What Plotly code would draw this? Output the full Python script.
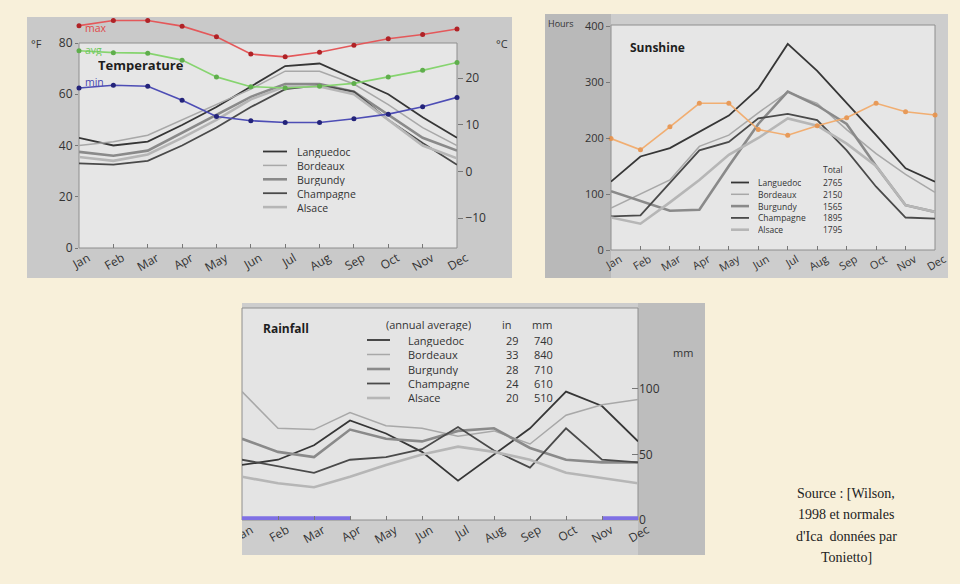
import plotly.graph_objects as go

W, H = 960, 584
BG = "#f8f0da"
FONT = "Open Sans"

months = ["Jan", "Feb", "Mar", "Apr", "May", "Jun", "Jul", "Aug", "Sep", "Oct", "Nov", "Dec"]
regions = ["Languedoc", "Bordeaux", "Burgundy", "Champagne", "Alsace"]
region_colors = ["#363636", "#a8a8a8", "#8a8a8a", "#4a4a4a", "#b6b6b6"]
region_widths = [1.8, 1.5, 2.6, 1.8, 2.6]

# Temperature (°F) of the wine regions
temp_languedoc = [43, 40, 41.5, 48, 55, 63, 71, 72, 66, 60, 51, 43]
temp_bordeaux = [40, 41.5, 44, 50, 56, 62, 69, 69, 64, 56, 47, 40]
temp_burgundy = [37.5, 36, 38, 45, 52, 59, 64, 64, 61, 52, 43, 38]
temp_champagne = [33, 32.5, 34, 40, 47, 55, 62, 63.5, 61, 50, 41, 32.5]
temp_alsace = [35.5, 34, 36.5, 43, 50, 58, 63, 63, 60, 50, 40, 35]
# Ica temperature (°C)
ica_max = [31.3, 32.4, 32.4, 31.2, 28.9, 25.2, 24.6, 25.6, 27.1, 28.5, 29.4, 30.6]
ica_avg = [25.9, 25.5, 25.4, 23.9, 20.3, 18.2, 17.9, 18.3, 18.9, 20.3, 21.7, 23.4]
ica_min = [17.9, 18.5, 18.3, 15.3, 11.8, 10.9, 10.5, 10.5, 11.3, 12.3, 13.9, 15.9]
ica_temp_labels = ["max", "avg", "min"]

# Sunshine (hours)
sun_languedoc = [122, 167, 182, 211, 240, 288, 368, 320, 263, 205, 146, 122]
sun_bordeaux = [75, 100, 125, 185, 205, 245, 282, 262, 215, 172, 135, 103]
sun_burgundy = [105, 88, 70, 72, 150, 225, 283, 258, 225, 150, 80, 68]
sun_champagne = [60, 62, 120, 178, 193, 235, 243, 232, 178, 113, 58, 56]
sun_alsace = [58, 47, 85, 125, 170, 200, 235, 222, 190, 150, 80, 68]
sun_ica = [199, 179, 220, 262, 262, 215, 205, 222, 236, 262, 247, 241]
sun_totals = [2765, 2150, 1565, 1895, 1795]

# Rainfall (mm)
rain_languedoc = [42, 46, 57, 76, 66, 52, 30, 50, 70, 98, 87, 60]
rain_bordeaux = [98, 70, 69, 82, 72, 70, 64, 68, 58, 80, 88, 92]
rain_burgundy = [62, 52, 48, 69, 62, 60, 68, 70, 55, 46, 44, 44]
rain_champagne = [46, 41, 36, 46, 48, 54, 71, 53, 40, 70, 46, 44]
rain_alsace = [33, 28, 25, 33, 42, 50, 56, 52, 46, 36, 32, 28]
rain_ica = [1, 1, 1, 1, None, None, None, None, None, None, 1, 1]
rain_in = [29, 33, 28, 24, 20]
rain_mm = [740, 840, 710, 610, 510]

source_lines = ["Source : [Wilson,", "1998 et normales", "d'Ica  données par", "Tonietto]"]

xs = list(range(len(months)))


def X(px):
    return px / W


def Y(py):
    return 1 - py / H


shapes = []
ann = []


def rect(x0, y0, x1, y1, fill, line=None, layer="below"):
    shapes.append(dict(type="rect", xref="paper", yref="paper",
                       x0=X(x0), x1=X(x1), y0=Y(y1), y1=Y(y0),
                       fillcolor=fill, layer=layer,
                       line=dict(width=1 if line else 0, color=line or fill)))


def seg(x0, y0, x1, y1, color, width):
    shapes.append(dict(type="line", xref="paper", yref="paper",
                       x0=X(x0), x1=X(x1), y0=Y(y0), y1=Y(y1),
                       line=dict(color=color, width=width), layer="above"))


def text(px, py, s, size=12, color="#333", anchor="left", bold=False, family=FONT, h=None):
    a = dict(xref="paper", yref="paper", x=X(px), y=Y(py),
             text=f"<b>{s}</b>" if bold else s, showarrow=False,
             xanchor=anchor, yanchor="middle", borderpad=0,
             font=dict(size=size, color=color, family=family))
    if h:
        a["height"] = h
    ann.append(a)


# ---- panel backgrounds ----
rect(27, 17, 512, 278, "#c9c9c9")
rect(79, 43, 457, 248, "#e6e6e6", line="#8e8e8e")
rect(545, 14, 948, 278, "#cdcdcd")
rect(545, 14, 611, 278, "#b9b9b9")
rect(611, 25, 935, 250, "#e6e6e6", line="#8e8e8e")
rect(242, 303, 705, 555, "#cdcdcd")
rect(638, 303, 705, 555, "#bdbdbd")
rect(242, 308, 638, 520, "#e4e4e4", line="#8e8e8e")
# clip of the rainfall "Jan" label
rect(220, 520, 242, 565, BG, layer="above")

fig = go.Figure()

# ---- Temperature ----
for vals, c, w in zip([temp_languedoc, temp_bordeaux, temp_burgundy, temp_champagne, temp_alsace],
                      region_colors, region_widths):
    fig.add_trace(go.Scatter(x=xs, y=vals, xaxis="x", yaxis="y", mode="lines",
                             line=dict(color=c, width=w), showlegend=False))
for vals, c, mc in zip([ica_max, ica_avg, ica_min],
                       ["#e4585a", "#86d46f", "#4d4db5"],
                       ["#b02226", "#5fae4c", "#23237a"]):
    fig.add_trace(go.Scatter(x=xs, y=vals, xaxis="x", yaxis="y4", mode="lines+markers",
                             line=dict(color=c, width=1.6), marker=dict(size=5, color=mc),
                             cliponaxis=False, showlegend=False))

# ---- Sunshine ----
for vals, c, w in zip([sun_languedoc, sun_bordeaux, sun_burgundy, sun_champagne, sun_alsace],
                      region_colors, region_widths):
    fig.add_trace(go.Scatter(x=xs, y=vals, xaxis="x2", yaxis="y2", mode="lines",
                             line=dict(color=c, width=w), showlegend=False))
fig.add_trace(go.Scatter(x=xs, y=sun_ica, xaxis="x2", yaxis="y2", mode="lines+markers",
                         line=dict(color="#f3a865", width=1.6), marker=dict(size=5, color="#e8924a"),
                         opacity=0.9, cliponaxis=False, showlegend=False))

# ---- Rainfall ----
for vals, c, w in zip([rain_languedoc, rain_bordeaux, rain_burgundy, rain_champagne, rain_alsace],
                      region_colors, region_widths):
    fig.add_trace(go.Scatter(x=xs, y=vals, xaxis="x3", yaxis="y3", mode="lines",
                             line=dict(color=c, width=w), showlegend=False))
fig.add_trace(go.Scatter(x=xs, y=rain_ica, xaxis="x3", yaxis="y3", mode="lines",
                         line=dict(color="#7f70e4", width=5), showlegend=False))

# ---- texts ----
text(97, 65, "Temperature", size=13, color="#1e1e1e", bold=True, h=14)
for lab, py, col in zip(ica_temp_labels, [28, 50, 82], ["#e04848", "#6cc85a", "#4646b0"]):
    text(84, py, lab, size=10.5, color=col, h=12)
text(30, 43, "°F", size=11)
text(502, 43, "°C", size=11, anchor="center")

text(629, 47, "Sunshine", size=12, color="#1e1e1e", bold=True)
text(547, 24, "Hours", size=9)
text(262, 328, "Rainfall", size=12, color="#1e1e1e", bold=True)
text(683, 352, "mm", size=11, anchor="center")

# temperature legend
for i, (name, c, w) in enumerate(zip(regions, region_colors, region_widths)):
    py = 151.5 + i * 13.9
    seg(263, py, 287, py, c, w)
    text(296, py, name, size=10.5, h=13)

# sunshine legend
text(822, 169, "Total", size=8.5, h=11)
for i, (name, c, w, tot) in enumerate(zip(regions, region_colors, region_widths, sun_totals)):
    py = 182.5 + i * 11.8
    seg(731, py, 749, py, c, w)
    text(757, py, name, size=8.5, h=11)
    text(822, py, str(tot), size=8.5, h=11)

# rainfall legend
text(385, 325, "(annual average)", size=11, h=13)
text(501, 325, "in", size=11, h=13)
text(531, 325, "mm", size=11, h=13)
for i, (name, c, w, vin, vmm) in enumerate(zip(regions, region_colors, region_widths, rain_in, rain_mm)):
    py = 340 + i * 14.5
    seg(367, py, 390, py, c, w)
    text(407, py, name, size=11, h=13)
    text(505, py, str(vin), size=11, h=13)
    text(533, py, str(vmm), size=11, h=13)

for i, line in enumerate(source_lines):
    text(846, 493 + i * 21.5, line, size=14, color="#222", anchor="center", family="Liberation Serif")

tick_font = dict(family=FONT, size=12, color="#333")
small_font = dict(family=FONT, size=11, color="#333")
common_x = dict(range=[0, 11], tickmode="array", tickvals=xs, ticktext=months, tickangle=-30,
                ticks="inside", ticklen=4, tickcolor="#777", showgrid=False, zeroline=False,
                showline=False, ticklabelshift=9, fixedrange=True, automargin=False)
common_y = dict(showgrid=False, zeroline=False, showline=False, tickcolor="#777",
                fixedrange=True, automargin=False)

fig.update_layout(
    width=W, height=H, autosize=False, margin=dict(l=0, r=0, t=0, b=0, pad=0, autoexpand=False),
    paper_bgcolor=BG, plot_bgcolor="rgba(0,0,0,0)", showlegend=False,
    font=dict(family=FONT, color="#333"),
    xaxis=dict(domain=[X(79), X(457)], anchor="y", tickfont=tick_font, **common_x),
    yaxis=dict(domain=[Y(248), Y(17)], anchor="x", range=[0, 90.15],
               tickvals=[0, 20, 40, 60, 80], ticks="outside", ticklen=3,
               tickfont=tick_font, **common_y),
    yaxis4=dict(overlaying="y", anchor="x", side="right", range=[-16.44, 33.16],
                tickvals=[-10, 0, 10, 20], ticks="outside", ticklen=5,
                tickfont=tick_font, **common_y),
    xaxis2=dict(domain=[X(611), X(935)], anchor="y2", tickfont=small_font, **common_x),
    yaxis2=dict(domain=[Y(250), Y(26)], anchor="x2", range=[0, 400],
                tickvals=[0, 100, 200, 300, 400], ticks="outside", ticklen=4,
                tickfont=small_font, **common_y),
    xaxis3=dict(domain=[X(242), X(638)], anchor="y3", tickfont=tick_font, **common_x),
    yaxis3=dict(domain=[Y(520), Y(308)], anchor="x3", side="right", range=[0, 161.8],
                tickvals=[0, 50, 100], ticks="inside", ticklen=6,
                tickfont=tick_font, **common_y),
    shapes=shapes, annotations=ann,
)

fig.write_html(
    "out.html",
    config={"displayModeBar": False, "staticPlot": True},
    post_script=("document.body.style.margin='0';document.body.style.padding='0';"
                 "document.body.style.overflow='hidden';"
                 "document.body.style.background='" + BG + "';"),
)
